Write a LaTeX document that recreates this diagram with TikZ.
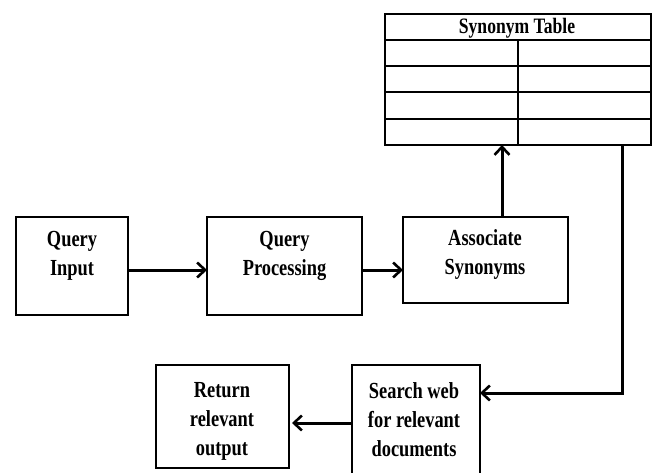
\documentclass[tikz,border=0pt]{standalone}
\usepackage{fontspec}
\setmainfont{Liberation Serif}[FakeStretch=0.8]
\usetikzlibrary{arrows.meta}
\begin{document}
\begin{tikzpicture}[x=1pt,y=-1pt,
  box/.style={draw,line width=1.3pt,inner sep=0pt,outer sep=0pt},
  txt/.style={inner sep=0pt,align=center,font=\bfseries\fontsize{23}{29}\selectfont},
  arr/.style={line width=3pt,-{Straight Barb[length=8pt,width=15pt,line width=2.6pt]}},
  gridline/.style={line width=1.3pt}]
\useasboundingbox (0,0) rectangle (655,473);
% boxes
\node[box,minimum width=112pt,minimum height=98pt] (qi) at (72,266) {};
\node[box,minimum width=155pt,minimum height=98pt] (qp) at (284.5,266) {};
\node[box,minimum width=165pt,minimum height=86pt] (as) at (485.5,260) {};
\node[box,minimum width=133pt,minimum height=103pt] (ret) at (222.5,416.5) {};
\node[box,minimum width=128pt,minimum height=112pt] (sw) at (416,421) {};
\node[box,minimum width=266pt,minimum height=131pt] (tab) at (518,79.5) {};
% texts
\node[txt] (tqi) at (72,256) {Query\\Input};
\node[txt] (tqp) at (284.5,256) {Query\\Processing};
\node[txt] (tas) at (485,255) {Associate\\Synonyms};
\node[txt] (tret) at (222,421) {Return\\relevant\\output};
\node[txt] (tsw) at (414,420) {Search web\\for relevant\\documents};
\node[txt,font=\bfseries\fontsize{22}{29}\selectfont] (ttab) at (517,28) {Synonym Table};
% table grid
\draw[line width=2.2pt] (tab.west |- 0,40) -- (tab.east |- 0,40);
\foreach \yy in {66,92,119} \draw[gridline] (tab.west |- 0,\yy) -- (tab.east |- 0,\yy);
\draw[gridline] (518,40) -- (tab.south -| 518,0);
% connectors
\coordinate (up) at (502,0);
\coordinate (dn) at (622,393);
\coordinate (lft) at (0,423);
\draw[arr] ([yshift=-4pt]qi.east) -- ([yshift=-4pt]qi.east -| qp.west);
\draw[arr] ([yshift=-4pt]qp.east) -- ([yshift=-4pt]qp.east -| as.west);
\draw[arr] (as.north -| up) -- (tab.south -| up);
\draw[arr] (tab.south -| dn) -- (dn) -- (dn -| sw.east);
\draw[arr] (sw.west |- lft) -- ([xshift=3pt]ret.east |- lft);
\end{tikzpicture}
\end{document}
